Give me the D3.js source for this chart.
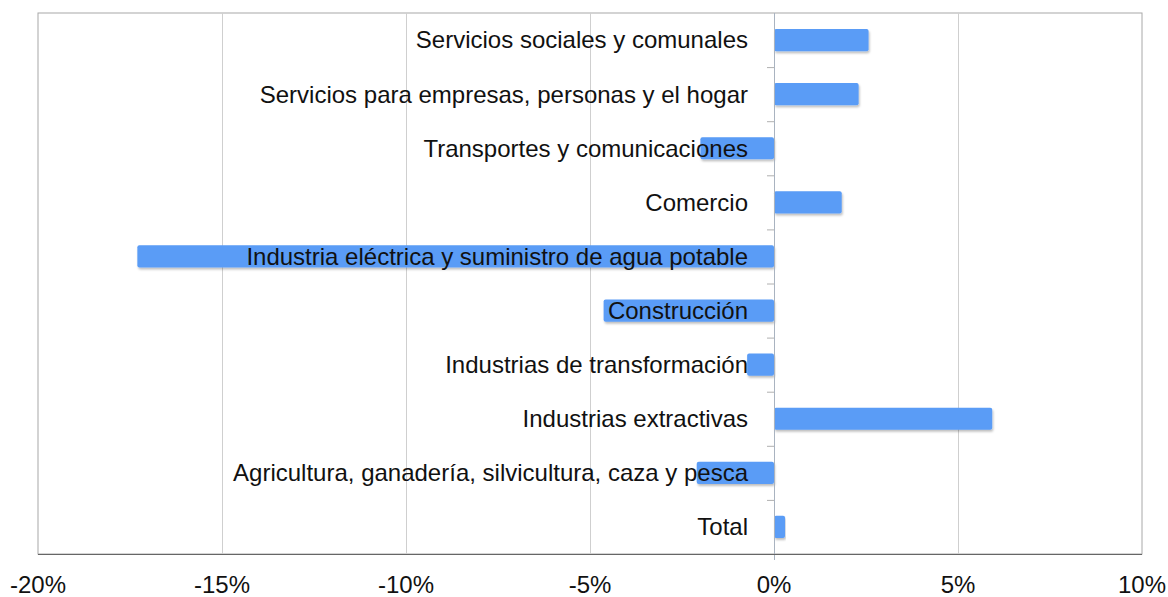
<!DOCTYPE html>
<html>
<head>
<meta charset="utf-8">
<script src="https://cdn.jsdelivr.net/npm/d3@7"></script>
<style>
  html, body { margin: 0; padding: 0; background: #fff; }
  svg { display: block; }
  text { font-family: "Liberation Sans", Arial, Helvetica, sans-serif; }
</style>
</head>
<body>
<svg id="chart" width="1168" height="597"></svg>
<script>
const categories = [
  "Servicios sociales y comunales",
  "Servicios para empresas, personas y el hogar",
  "Transportes y comunicaciones",
  "Comercio",
  "Industria eléctrica y suministro de agua potable",
  "Construcción",
  "Industrias de transformación",
  "Industrias extractivas",
  "Agricultura, ganadería, silvicultura, caza y pesca",
  "Total"
];
const values = [2.57, 2.30, -2.0, 1.84, -17.3, -4.63, -0.73, 5.93, -2.1, 0.3];
const tickValues = [-20, -15, -10, -5, 0, 5, 10];
const tickLabels = ["-20%", "-15%", "-10%", "-5%", "0%", "5%", "10%"];

const svg = d3.select("#chart");
const margin = {left: 38, right: 26, top: 13, bottom: 43};
const W = 1168, H = 597;
const x = d3.scaleLinear().domain([-20, 10]).range([margin.left, W - margin.right]);
const y = d3.scaleBand().domain(categories).range([margin.top, H - margin.bottom]).paddingInner(0.59).paddingOuter(0.295);
const yb = d3.scaleBand().domain(categories).range([margin.top, H - margin.bottom]);

const defs = svg.append("defs");
const f = defs.append("filter").attr("id", "sh").attr("x", "-5%").attr("y", "-30%").attr("width", "110%").attr("height", "160%");
f.append("feDropShadow").attr("dx", 1).attr("dy", 2).attr("stdDeviation", 1).attr("flood-color", "#000").attr("flood-opacity", 0.25);

// frame
svg.append("rect")
  .attr("x", x(-20)).attr("y", margin.top)
  .attr("width", x(10) - x(-20)).attr("height", H - margin.bottom - margin.top)
  .attr("fill", "none").attr("stroke", "#a8a8a8").attr("stroke-width", 1);

// gridlines
svg.append("g").selectAll("line").data(tickValues.filter(d => d !== 0 && d !== -20 && d !== 10))
  .join("line")
  .attr("x1", d => x(d) + 0.5).attr("x2", d => x(d) + 0.5)
  .attr("y1", margin.top).attr("y2", H - margin.bottom)
  .attr("stroke", "#cfcfcf").attr("stroke-width", 1);

// bars
svg.append("g").selectAll("rect").data(categories)
  .join("rect")
  .attr("x", (d, i) => Math.min(x(0), x(values[i])))
  .attr("y", d => y(d))
  .attr("width", (d, i) => Math.abs(x(values[i]) - x(0)))
  .attr("height", y.bandwidth())
  .attr("rx", 2)
  .attr("fill", "#5a9cf6")
  .attr("filter", "url(#sh)");

// zero line
svg.append("line")
  .attr("x1", x(0) + 0.5).attr("x2", x(0) + 0.5)
  .attr("y1", margin.top).attr("y2", H - margin.bottom + 6)
  .attr("stroke", "#a9b3c0").attr("stroke-width", 1);

// y ticks at band boundaries
svg.append("g").selectAll("line").data(categories.slice(1))
  .join("line")
  .attr("x1", x(0) - 7).attr("x2", x(0))
  .attr("y1", d => yb(d) + 0.5).attr("y2", d => yb(d) + 0.5)
  .attr("stroke", "#b0b0b0");

// category labels
svg.append("g").selectAll("text").data(categories)
  .join("text")
  .attr("x", x(0) - 26)
  .attr("y", d => y(d) + y.bandwidth() / 2)
  .attr("dy", "0.35em")
  .attr("text-anchor", "end")
  .attr("font-size", 24)
  .attr("fill", "#111")
  .text(d => d);

// x axis line
svg.append("line")
  .attr("x1", x(-20)).attr("x2", x(10))
  .attr("y1", H - margin.bottom + 0.5).attr("y2", H - margin.bottom + 0.5)
  .attr("stroke", "#666").attr("stroke-width", 1);

// x tick labels
svg.append("g").selectAll("text").data(tickValues)
  .join("text")
  .attr("x", d => x(d))
  .attr("y", H - margin.bottom + 39)
  .attr("text-anchor", "middle")
  .attr("font-size", 24)
  .attr("fill", "#111")
  .text((d, i) => tickLabels[i]);
</script>
</body>
</html>
